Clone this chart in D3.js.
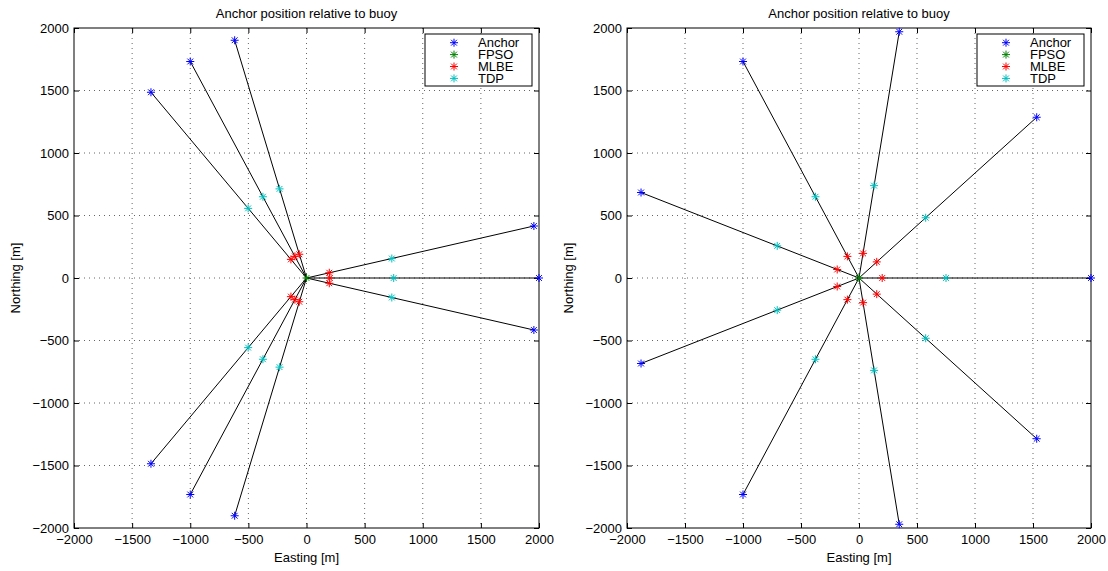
<!DOCTYPE html>
<html>
<head>
<meta charset="utf-8">
<script src="https://cdn.jsdelivr.net/npm/d3@7"></script>
<style>
  body { margin: 0; background: #fff; }
  svg { font-family: "Liberation Sans", Arial, sans-serif; }
</style>
</head>
<body>
<svg id="chart" width="1108" height="571"></svg>
<script>
// data (metres)
const legendNames = ["Anchor", "FPSO", "MLBE", "TDP"];
const ticks = [-2000, -1500, -1000, -500, 0, 500, 1000, 1500, 2000];

const fpsoX = [0];
const fpsoY = [0];

// left plot
const anchorLeftX = [1956, 2000, 1956, -618, -1000, -1338, -618, -1000, -1338];
const anchorLeftY = [416, 0, -416, 1902, 1732, 1486, -1902, -1732, -1486];
const tdpLeftX = [734, 750, 734, -232, -375, -502, -232, -375, -502];
const tdpLeftY = [156, 0, -156, 713, 650, 557, -713, -650, -557];
const mlbeLeftX = [196, 200, 196, -62, -100, -134, -62, -100, -134];
const mlbeLeftY = [42, 0, -42, 190, 173, 149, -190, -173, -149];

// right plot
const anchorRightX = [2000, 1532, 347, -1000, -1879, -1879, -1000, 347, 1532];
const anchorRightY = [0, 1286, 1970, 1732, 684, -684, -1732, -1970, -1286];
const tdpRightX = [750, 575, 130, -375, -705, -705, -375, 130, 575];
const tdpRightY = [0, 482, 739, 650, 257, -257, -650, -739, -482];
const mlbeRightX = [200, 153, 35, -100, -188, -188, -100, 35, 153];
const mlbeRightY = [0, 129, 197, 173, 68, -68, -173, -197, -129];

const colors = {
  Anchor: "#0000ff",
  FPSO: "#008000",
  MLBE: "#ff0000",
  TDP: "#00bfbf",
};

const zip = (xs, ys) => xs.map((x, i) => ({ x: x, y: ys[i] }));

// asterisk marker (+ and x)
const star = "M-4,0H4M0,-4V4M-2.9,-2.9L2.9,2.9M-2.9,2.9L2.9,-2.9";

function drawPlot(svg, box, sets) {
  const xScale = d3.scaleLinear().domain([-2000, 2000]).range([box.left, box.right]);
  const yScale = d3.scaleLinear().domain([-2000, 2000]).range([box.bottom, box.top]);
  const g = svg.append("g");

  // grid
  const inner = ticks.slice(1, -1);
  g.append("g")
    .selectAll("line")
    .data(inner)
    .enter()
    .append("line")
    .attr("x1", (d) => xScale(d))
    .attr("x2", (d) => xScale(d))
    .attr("y1", box.top)
    .attr("y2", box.bottom)
    .attr("stroke", "#666")
    .attr("stroke-dasharray", "1,4");
  g.append("g")
    .selectAll("line")
    .data(inner)
    .enter()
    .append("line")
    .attr("y1", (d) => yScale(d))
    .attr("y2", (d) => yScale(d))
    .attr("x1", box.left)
    .attr("x2", box.right)
    .attr("stroke", "#666")
    .attr("stroke-dasharray", "1,4");

  // axes, ticks pointing inwards
  const axisStyle = (sel) => {
    sel.select(".domain").remove();
    sel.selectAll("text").style("font-size", "13px").attr("fill", "#000");
    sel.selectAll("line").attr("stroke", "#000");
  };
  g.append("g")
    .attr("transform", `translate(0,${box.bottom})`)
    .call(d3.axisBottom(xScale).tickValues(ticks).tickSizeInner(-5).tickSizeOuter(0).tickPadding(7).tickFormat(d3.format("d")))
    .call(axisStyle);
  g.append("g")
    .attr("transform", `translate(0,${box.top})`)
    .call(d3.axisTop(xScale).tickValues(ticks).tickSizeInner(-5).tickSizeOuter(0).tickFormat(""))
    .call(axisStyle);
  g.append("g")
    .attr("transform", `translate(${box.left},0)`)
    .call(d3.axisLeft(yScale).tickValues(ticks).tickSizeInner(-5).tickSizeOuter(0).tickPadding(5).tickFormat(d3.format("d")))
    .call(axisStyle);
  g.append("g")
    .attr("transform", `translate(${box.right},0)`)
    .call(d3.axisRight(yScale).tickValues(ticks).tickSizeInner(-5).tickSizeOuter(0).tickFormat(""))
    .call(axisStyle);

  g.append("rect")
    .attr("x", box.left)
    .attr("y", box.top)
    .attr("width", box.right - box.left)
    .attr("height", box.bottom - box.top)
    .attr("fill", "none")
    .attr("stroke", "#000");

  // mooring lines from buoy to anchors
  const line = d3.line().x((d) => xScale(d.x)).y((d) => yScale(d.y));
  g.append("g")
    .selectAll("path")
    .data(sets.Anchor)
    .enter()
    .append("path")
    .attr("d", (d) => line([{ x: 0, y: 0 }, d]))
    .attr("fill", "none")
    .attr("stroke", "#000")
    .attr("stroke-width", 1);

  // markers
  legendNames.forEach((key) => {
    g.append("g")
      .selectAll("path")
      .data(sets[key])
      .enter()
      .append("path")
      .attr("d", star)
      .attr("transform", (d) => `translate(${xScale(d.x)},${yScale(d.y)})`)
      .attr("fill", "none")
      .attr("stroke", colors[key])
      .attr("stroke-width", 1);
  });

  // titles
  const cx = (box.left + box.right) / 2;
  g.append("text")
    .attr("x", cx)
    .attr("y", 18)
    .attr("text-anchor", "middle")
    .style("font-size", "13px")
    .text("Anchor position relative to buoy");
  g.append("text")
    .attr("x", cx)
    .attr("y", 562)
    .attr("text-anchor", "middle")
    .style("font-size", "13px")
    .text("Easting [m]");
  g.append("text")
    .attr("transform", `translate(${box.left - 54},${(box.top + box.bottom) / 2}) rotate(-90)`)
    .attr("text-anchor", "middle")
    .style("font-size", "13px")
    .text("Northing [m]");

  // legend
  const lx = box.right - 114, ly = 34;
  const legend = g.append("g").attr("transform", `translate(${lx},${ly})`);
  legend
    .append("rect")
    .attr("width", 107)
    .attr("height", 52)
    .attr("fill", "#fff")
    .attr("stroke", "#000");
  legendNames.forEach((key, i) => {
    const y = 8.7 + i * 11.9;
    legend
      .append("path")
      .attr("d", star)
      .attr("transform", `translate(29,${y})`)
      .attr("fill", "none")
      .attr("stroke", colors[key]);
    legend
      .append("text")
      .attr("x", 53)
      .attr("y", y + 4.7)
      .style("font-size", "13px")
      .text(key);
  });
}

const svg = d3.select("#chart");

drawPlot(svg, { left: 74, right: 539, top: 28, bottom: 528 }, {
  Anchor: zip(anchorLeftX, anchorLeftY),
  FPSO: zip(fpsoX, fpsoY),
  MLBE: zip(mlbeLeftX, mlbeLeftY),
  TDP: zip(tdpLeftX, tdpLeftY),
});

drawPlot(svg, { left: 627, right: 1091, top: 28, bottom: 528 }, {
  Anchor: zip(anchorRightX, anchorRightY),
  FPSO: zip(fpsoX, fpsoY),
  MLBE: zip(mlbeRightX, mlbeRightY),
  TDP: zip(tdpRightX, tdpRightY),
});
</script>
</body>
</html>
